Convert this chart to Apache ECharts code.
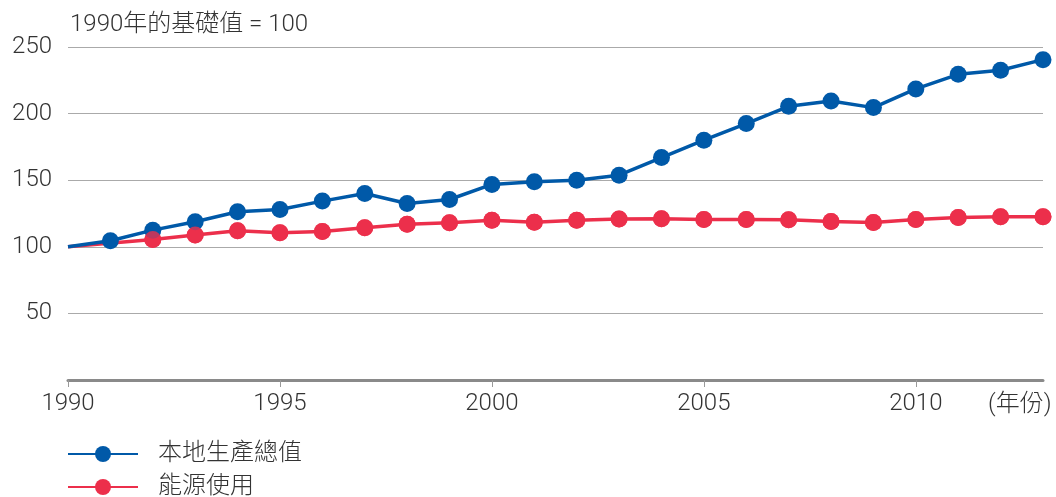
<!DOCTYPE html>
<html>
<head>
<meta charset="utf-8">
<script src="https://cdn.jsdelivr.net/npm/echarts@6/dist/echarts.min.js"></script>
<style>
  html, body { margin: 0; padding: 0; background: #fff; }
</style>
</head>
<body>
<div id="chartGdp" style="width: 1056px;height: 497px"></div>
<script>
  // 年份
  const years = ['1990', '1991', '1992', '1993', '1994', '1995', '1996', '1997', '1998', '1999', '2000', '2001',
    '2002', '2003', '2004', '2005', '2006', '2007', '2008', '2009', '2010', '2011', '2012', '2013']
  // 本地生產總值 (1990 = 100)
  const gdpValues = [100, 104.5, 112.5, 118.8, 126.3, 128, 134.3, 140, 132.5, 135.5, 146.8, 148.8,
    150, 153.8, 167, 180, 192.5, 205.5, 209.5, 204.5, 218.5, 229.5, 232.5, 240.5]
  // 能源使用 (1990 = 100), 1991 沒有數據點
  const energyValues = [100, null, 105.5, 108.8, 112, 110.5, 111.5, 114.3, 117, 118, 120, 118.5,
    120, 120.8, 121, 120.5, 120.5, 120.3, 119, 118.2, 120.5, 122, 122.5, 122.5]
  const yTicks = [50, 100, 150, 200, 250]

  const fontFamily = 'Roboto, "Noto Sans CJK TC", sans-serif'
  const blue = '#0059a8'
  const red = '#ec2f4b'
  const txt = '#333'
  // 1990 基礎值不畫圓點
  const dotSize = (v, p) => (p.dataIndex === 0 ? 0 : 17)

  let chart = echarts.init(document.getElementById('chartGdp'))
  chart.setOption({
    animation: false,
    textStyle: { fontFamily: fontFamily },
    grid: { left: 68, right: 13, top: 47, bottom: 117 },
    graphic: [
      {
        type: 'text',
        left: 70,
        top: 13,
        style: { text: '1990年的基礎值 = 100', fill: txt, font: '300 24px ' + fontFamily },
      },
      {
        type: 'text',
        left: 988,
        top: 393,
        style: { text: '(年份)', fill: txt, font: '300 24px ' + fontFamily },
      },
    ],
    legend: [
      {
        data: ['本地生產總值'],
        left: 67,
        top: 442,
        padding: 0,
        itemWidth: 70,
        itemHeight: 20,
        textStyle: { fontSize: 24, color: txt, fontWeight: 300, padding: [0, 0, 0, 15] },
      },
      {
        data: ['能源使用'],
        left: 67,
        top: 475,
        padding: 0,
        itemWidth: 70,
        itemHeight: 20,
        textStyle: { fontSize: 24, color: txt, fontWeight: 300, padding: [0, 0, 0, 15] },
      },
    ],
    xAxis: {
      type: 'category',
      data: years,
      boundaryGap: false,
      axisLine: { lineStyle: { color: '#8a8a8a', width: 3 } },
      axisTick: {
        length: 7,
        interval: (i, v) => Number(v) % 5 === 0,
        lineStyle: { color: '#999', width: 1 },
      },
      axisLabel: {
        interval: (i, v) => Number(v) % 5 === 0,
        fontSize: 24,
        color: txt,
        fontWeight: 300,
        margin: 12,
      },
      splitLine: { show: false },
    },
    yAxis: {
      type: 'value',
      min: 0,
      max: 250,
      interval: 50,
      axisLine: { show: false },
      axisTick: { show: false },
      axisLabel: {
        fontSize: 24,
        color: txt,
        fontWeight: 300,
        margin: 16,
        padding: [5, 0, 0, 0],
        formatter: (v) => (yTicks.indexOf(v) >= 0 ? String(v) : ''),
      },
      splitLine: { lineStyle: { color: '#aaa', width: 1.2 } },
    },
    series: [
      {
        name: '能源使用',
        type: 'line',
        data: energyValues,
        connectNulls: true,
        symbol: 'circle',
        symbolSize: dotSize,
        lineStyle: { color: red, width: 3.5 },
        itemStyle: { color: red },
        z: 2,
      },
      {
        name: '本地生產總值',
        type: 'line',
        data: gdpValues,
        symbol: 'circle',
        symbolSize: dotSize,
        lineStyle: { color: blue, width: 3.5 },
        itemStyle: { color: blue },
        z: 3,
      },
      {
        // 能源使用的圓點畫在最上層
        name: '能源使用圓點',
        type: 'scatter',
        data: energyValues,
        symbol: 'circle',
        symbolSize: dotSize,
        itemStyle: { color: red },
        z: 4,
      },
    ],
  })
</script>
</body>
</html>
